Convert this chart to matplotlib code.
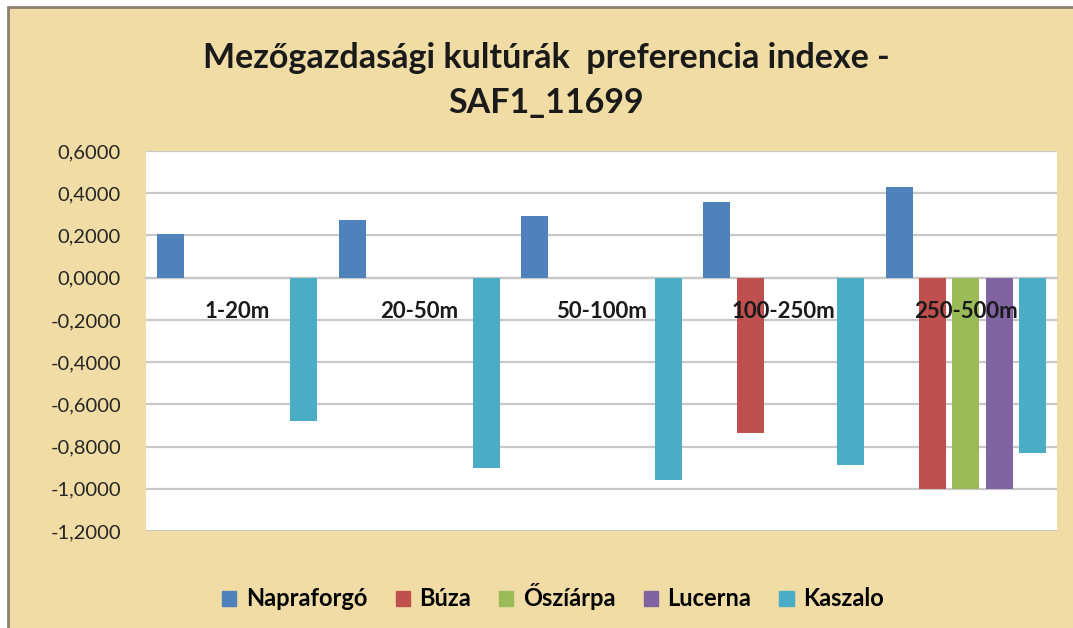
import matplotlib.pyplot as plt
import matplotlib.patches as mpatches
import numpy as np

# data
categories = ['1-20m', '20-50m', '50-100m', '100-250m', '250-500m']
series_names = ['Napraforgó', 'Búza', 'Őszíárpa', 'Lucerna', 'Kaszalo']
napraforgo = [0.207, 0.275, 0.294, 0.359, 0.429]
buza = [0, 0, 0, -0.738, -1.0]
osziarpa = [0, 0, 0, 0, -1.0]
lucerna = [0, 0, 0, 0, -1.0]
kaszalo = [-0.678, -0.903, -0.959, -0.889, -0.829]
yticks = [0.6, 0.4, 0.2, 0.0, -0.2, -0.4, -0.6, -0.8, -1.0, -1.2]

colors = ['#4F81BD', '#C0504D', '#9BBB59', '#8064A2', '#4BACC6']
series = [napraforgo, buza, osziarpa, lucerna, kaszalo]

plt.rcParams['font.family'] = ['Lato', 'DejaVu Sans']

W, H = 1073, 628
fig = plt.figure(figsize=(W / 100, H / 100), dpi=100)
fig.patch.set_facecolor('white')

# parchment background with a thin grey frame on the left/top
bg = mpatches.Rectangle((8 / W, -0.01), 1.02, (H - 7) / H + 0.01, transform=fig.transFigure,
                        facecolor='#F1DCA5', edgecolor='#8A8170', linewidth=2, zorder=-5)
fig.patches.append(bg)

ax = fig.add_axes([146 / W, (H - 531) / H, (1057 - 146) / W, (531 - 151) / H])
ax.set_facecolor('white')
ax.set_zorder(1)

x = np.arange(len(categories))
step = 0.1835
width = 0.148
for i, (name, vals, col) in enumerate(zip(series_names, series, colors)):
    offs = (i - 2) * step
    ax.bar(x + offs, vals, width, color=col, label=name, zorder=3)

ax.set_xlim(-0.5, len(categories) - 0.5)
ax.set_ylim(-1.2, 0.6)
ax.set_yticks(yticks)
ax.set_yticklabels([f'{v:.4f}'.replace('.', ',') for v in yticks],
                   fontsize=14.5, color='#262626')
ax.tick_params(axis='y', length=0, pad=18)
ax.yaxis.grid(True, color='#C8C8C8', linewidth=1.6, zorder=0)
ax.set_axisbelow(True)

# zero line acts as the category axis
ax.spines['bottom'].set_position(('data', 0))
ax.spines['bottom'].set_color('#C8C8C8')
ax.spines['bottom'].set_linewidth(1.6)
for s in ['top', 'right', 'left']:
    ax.spines[s].set_visible(False)
ax.set_xticks([])

# category labels sit just under zero, drawn over the bars
for i, cat in enumerate(categories):
    ax.annotate(cat, xy=(x[i], 0), xytext=(0, -17), textcoords='offset points',
                ha='center', va='top', fontsize=16, fontweight='bold',
                color='#1a1a1a', zorder=6)

fig.text(546 / W, (H - 58) / H, 'Mezőgazdasági kultúrák  preferencia indexe -',
         ha='center', va='center', fontsize=24.5, fontweight='bold', color='#1a1a1a')
fig.text(546 / W, (H - 103) / H, 'SAF1_11699',
         ha='center', va='center', fontsize=24.5, fontweight='bold', color='#1a1a1a')

handles = [mpatches.Patch(color=c, label=n) for c, n in zip(colors, series_names)]
leg = fig.legend(handles=handles, loc='center', bbox_to_anchor=(553 / W, (H - 597) / H),
                 ncol=5, frameon=False, handlelength=0.6, handleheight=0.6,
                 handletextpad=0.4, columnspacing=1.2,
                 prop={'size': 17, 'weight': 'bold'})

fig.savefig('out.png', dpi=100, facecolor=fig.get_facecolor())
